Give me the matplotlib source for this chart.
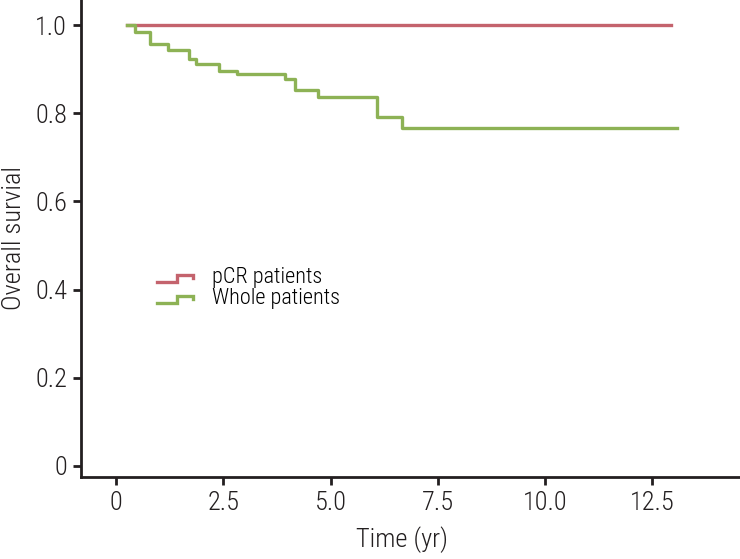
import matplotlib
matplotlib.use("Agg")
import matplotlib.pyplot as plt
from matplotlib.legend_handler import HandlerBase
from matplotlib.lines import Line2D

plt.rcParams["font.family"] = ["Roboto Condensed", "Roboto", "DejaVu Sans"]
plt.rcParams["font.stretch"] = "condensed"
plt.rcParams["font.weight"] = "light"
plt.rcParams["axes.labelweight"] = "light"

# Kaplan-Meier style step data
pcr_times = [0.25, 12.94]
pcr_surv = [1.0, 1.0]

whole_times = [0.25, 0.44, 0.79, 1.20, 1.69, 1.85, 2.40, 2.82, 3.93,
               4.18, 4.70, 6.09, 6.67, 13.08]
whole_surv = [1.0, 0.985, 0.958, 0.943, 0.924, 0.911, 0.896, 0.889, 0.877,
              0.852, 0.838, 0.792, 0.766, 0.766]

x_ticks = [0, 2.5, 5.0, 7.5, 10.0, 12.5]
x_labels = ["0", "2.5", "5.0", "7.5", "10.0", "12.5"]
y_ticks = [0, 0.2, 0.4, 0.6, 0.8, 1.0]
y_labels = ["0", "0.2", "0.4", "0.6", "0.8", "1.0"]

RED = "#c4636d"
GREEN = "#8db255"
INK = "#231f20"


class StepHandler(HandlerBase):
    def create_artists(self, legend, orig_handle, xdescent, ydescent,
                       width, height, fontsize, trans):
        xs = [0, 0.55 * width, 0.55 * width, width, width]
        ys = [0.05 * height, 0.05 * height, 0.5 * height, 0.5 * height, 0.35 * height]
        ln = Line2D([x - xdescent for x in xs], [y - ydescent for y in ys],
                    color=orig_handle.get_color(), lw=2.4,
                    solid_joinstyle="miter", transform=trans)
        return [ln]


fig = plt.figure(figsize=(7.4, 5.59), dpi=100)
ax = fig.add_axes([0.1095, 0.1467, 0.8905, 0.8533])

red_line, = ax.step(pcr_times, pcr_surv, where="post", color=RED, lw=2.4,
                    label="pCR patients")
green_line, = ax.step(whole_times, whole_surv, where="post", color=GREEN,
                      lw=2.4, label="Whole patients")

ax.set_xlim(-0.82, 14.55)
ax.set_ylim(-0.025, 1.057)
ax.set_xticks(x_ticks)
ax.set_xticklabels(x_labels)
ax.set_yticks(y_ticks)
ax.set_yticklabels(y_labels)

for side in ["top", "right"]:
    ax.spines[side].set_visible(False)
for side in ["left", "bottom"]:
    ax.spines[side].set_linewidth(2.0)
    ax.spines[side].set_color(INK)

ax.tick_params(axis="both", direction="out", length=6, width=2.0,
               color=INK, labelsize=19, labelcolor=INK, pad=4)

ax.set_xlabel("Time (yr)", fontsize=19, color=INK)
ax.set_ylabel("Overall survial", fontsize=19, color=INK)
ax.xaxis.set_label_coords(0.487, -0.103)
ax.yaxis.set_label_coords(-0.083, 0.5)

ax.legend(handles=[red_line, green_line], handler_map={Line2D: StepHandler()},
          loc="upper left", bbox_to_anchor=(0.115, 0.44), frameon=False,
          fontsize=16, handlelength=1.65, handletextpad=0.85, labelspacing=0.0,
          borderpad=0, borderaxespad=0)

fig.savefig("out.png", dpi=100)
